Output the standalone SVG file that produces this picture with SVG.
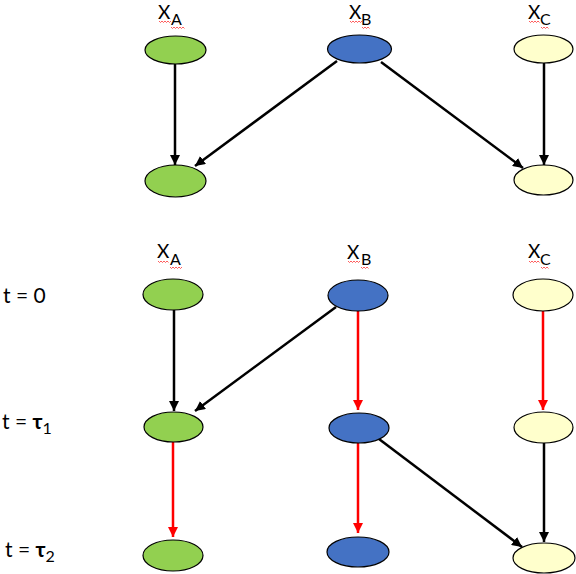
<svg xmlns="http://www.w3.org/2000/svg" width="576" height="574" viewBox="0 0 576 574">
<style>
.g{fill:#92D050;stroke:#000;stroke-width:1.2}
.b{fill:#4472C4;stroke:#000;stroke-width:1.2}
.y{fill:#FFFFCC;stroke:#000;stroke-width:1.2}
.lbl{font-family:Lato,"Liberation Sans",sans-serif;font-size:19px;fill:#000}
.sub{font-family:Lato,"Liberation Sans",sans-serif;font-size:16px;fill:#000}
.t{font-family:Lato,"Liberation Sans",sans-serif;font-size:21px;fill:#000}
.k{stroke:#000;stroke-width:2.5;fill:none;marker-end:url(#ak)}
.r{stroke:#FF0000;stroke-width:2.5;fill:none;marker-end:url(#ar)}
.sq{stroke:#FF3333;stroke-width:0.8;fill:none}
</style>
<defs>
<marker id="ak" markerUnits="userSpaceOnUse" markerWidth="12" markerHeight="10" refX="10" refY="5" orient="auto"><path d="M0,0 L10,5 L0,10 Z" fill="#000"/></marker>
<marker id="ar" markerUnits="userSpaceOnUse" markerWidth="12" markerHeight="10" refX="10" refY="5" orient="auto"><path d="M0,0 L10,5 L0,10 Z" fill="#FF0000"/></marker>
</defs>
<g id="connectors">
<path class="k" d="M175,64 L175,165"/>
<path class="k" d="M337,61 L195,166"/>
<path class="k" d="M381,62 L523,168"/>
<path class="k" d="M544,63 L544,165"/>
<path class="k" d="M174,310 L174,411"/>
<path class="k" d="M336,307 L195,411"/>
<path class="r" d="M358,311 L358,410"/>
<path class="r" d="M543,311 L543,410"/>
<path class="r" d="M173,442 L173,537"/>
<path class="r" d="M358,443 L358,533"/>
<path class="k" d="M379,439 L522,547"/>
<path class="k" d="M544,443 L544,542"/>
</g>
<g id="labels-top">
<text class="lbl" x="158" y="19">X</text><text class="sub" x="171" y="25">A</text>
<text class="lbl" x="349" y="19">X</text><text class="sub" x="361" y="25">B</text>
<text class="lbl" x="528" y="19">X</text><text class="sub" x="540" y="25">C</text>
<path class="sq" d="M159,21 l1.5,1.5 l1.5,-1.5 l1.5,1.5 l1.5,-1.5 l1.5,1.5 l1.5,-1.5 l1.5,1.5 l1.5,-1.5"/>
<path class="sq" d="M171,27 l1.5,1.5 l1.5,-1.5 l1.5,1.5 l1.5,-1.5 l1.5,1.5 l1.5,-1.5 l1.5,1.5 l1.5,-1.5 l1.5,1.5"/>
<path class="sq" d="M350,21 l1.5,1.5 l1.5,-1.5 l1.5,1.5 l1.5,-1.5 l1.5,1.5 l1.5,-1.5 l1.5,1.5 l1.5,-1.5"/>
<path class="sq" d="M362,27 l1.5,1.5 l1.5,-1.5 l1.5,1.5 l1.5,-1.5 l1.5,1.5"/>
<path class="sq" d="M529,21 l1.5,1.5 l1.5,-1.5 l1.5,1.5 l1.5,-1.5 l1.5,1.5 l1.5,-1.5 l1.5,1.5"/>
<path class="sq" d="M541,27 l1.5,1.5 l1.5,-1.5 l1.5,1.5 l1.5,-1.5 l1.5,1.5"/>
</g>
<g id="labels-bottom">
<text class="lbl" x="157" y="258">X</text><text class="sub" x="170" y="265">A</text>
<text class="lbl" x="347" y="259">X</text><text class="sub" x="361" y="265">B</text>
<text class="lbl" x="528" y="258">X</text><text class="sub" x="540" y="265">C</text>
<path class="sq" d="M158,261 l1.5,1.5 l1.5,-1.5 l1.5,1.5 l1.5,-1.5 l1.5,1.5 l1.5,-1.5 l1.5,1.5"/>
<path class="sq" d="M170,267 l1.5,1.5 l1.5,-1.5 l1.5,1.5 l1.5,-1.5 l1.5,1.5 l1.5,-1.5 l1.5,1.5 l1.5,-1.5"/>
<path class="sq" d="M348,261 l1.5,1.5 l1.5,-1.5 l1.5,1.5 l1.5,-1.5 l1.5,1.5 l1.5,-1.5 l1.5,1.5 l1.5,-1.5"/>
<path class="sq" d="M361,267 l1.5,1.5 l1.5,-1.5 l1.5,1.5 l1.5,-1.5 l1.5,1.5"/>
<path class="sq" d="M529,261 l1.5,1.5 l1.5,-1.5 l1.5,1.5 l1.5,-1.5 l1.5,1.5 l1.5,-1.5 l1.5,1.5"/>
<path class="sq" d="M541,267 l1.5,1.5 l1.5,-1.5 l1.5,1.5 l1.5,-1.5 l1.5,1.5"/>
</g>
<g id="time-labels">
<text class="t" x="3" y="303">t = 0</text>
<text class="t" x="2" y="429">t = <tspan font-weight="bold">τ</tspan><tspan font-size="16" dy="5">1</tspan></text>
<text class="t" x="5" y="557">t = <tspan font-weight="bold">τ</tspan><tspan font-size="16" dy="5">2</tspan></text>
</g>
<g id="top-A0"><ellipse class="g" cx="175.5" cy="50" rx="30.5" ry="14"/></g>
<g id="top-B0"><ellipse class="b" cx="359.5" cy="49" rx="32" ry="14"/></g>
<g id="top-C0"><ellipse class="y" cx="543.5" cy="49" rx="29.5" ry="14"/></g>
<g id="top-A1"><ellipse class="g" cx="175.5" cy="181" rx="30.5" ry="16"/></g>
<g id="top-C1"><ellipse class="y" cx="543.5" cy="180" rx="29.5" ry="15"/></g>
<g id="A0"><ellipse class="g" cx="173" cy="294.5" rx="30" ry="15.5"/></g>
<g id="B0"><ellipse class="b" cx="358" cy="295.5" rx="30" ry="15.5"/></g>
<g id="C0"><ellipse class="y" cx="543" cy="295" rx="30" ry="16"/></g>
<g id="A1"><ellipse class="g" cx="173.5" cy="427" rx="29.5" ry="15"/></g>
<g id="B1"><ellipse class="b" cx="359" cy="428" rx="30" ry="15"/></g>
<g id="C1"><ellipse class="y" cx="543.5" cy="427.5" rx="29.5" ry="15.5"/></g>
<g id="A2"><ellipse class="g" cx="173" cy="555.5" rx="30" ry="15.5"/></g>
<g id="B2"><ellipse class="b" cx="358" cy="552" rx="31" ry="15"/></g>
<g id="C2"><ellipse class="y" cx="544" cy="558" rx="31" ry="15"/></g>
</svg>
